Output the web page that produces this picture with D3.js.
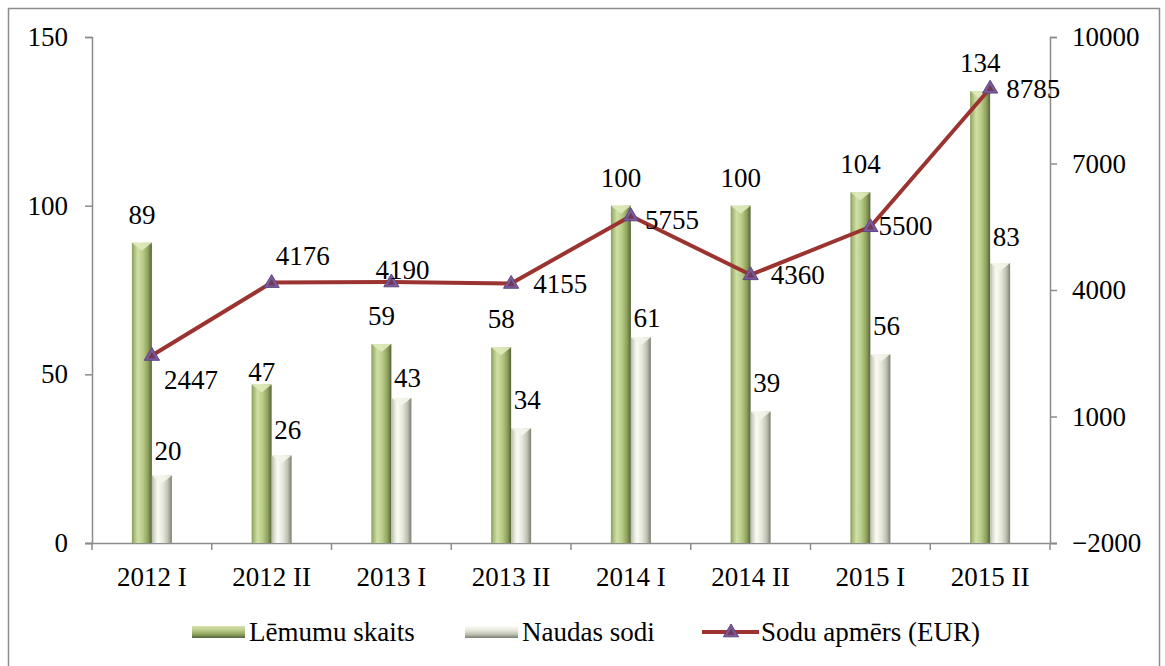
<!DOCTYPE html>
<html><head><meta charset="utf-8">
<script src="https://cdn.jsdelivr.net/npm/d3@7"></script>
<style>body{margin:0;background:#fff}text{font-family:"Liberation Serif","Times New Roman",serif;fill:#000}</style>
</head><body><svg id="c" width="1165" height="666"></svg>
<script>
const categories = ["2012 I","2012 II","2013 I","2013 II","2014 I","2014 II","2015 I","2015 II"];
const lemumi = [89,47,59,58,100,100,104,134];
const sodi = [20,26,43,34,61,39,56,83];
const apmers = [2447,4176,4190,4155,5755,4360,5500,8785];
const leftTicks = [0,50,100,150];
const rightTicks = [-2000,1000,4000,7000,10000];
const seriesNames = ["Lēmumu skaits","Naudas sodi","Sodu apmērs (EUR)"];

// label placement (layout only)
const greenLabelGap = [19,3,19,19,19,19,19,19];
const greyLabelGap = [16,16,11,19,10,19,19,17];
const lineLabelNudge = [[12,34],[4,-18],[-16,-3],[22,10],[14,13],[20,9],[8,8],[16,10]];

const FS = "27px";
const svg = d3.select("#c");
const L = 92, R = 1050, T = 37, B = 543;
const x = d3.scaleBand().domain(categories).range([L, R]);
const yL = d3.scaleLinear().domain([0,150]).range([B, T]);
const yR = d3.scaleLinear().domain([-2000,10000]).range([B, T]);
const bw = 20;

const defs = svg.append("defs");
function grad(id, stops, vertical){
  const g = defs.append("linearGradient").attr("id", id).attr("x1","0").attr("y1","0")
    .attr("x2", vertical ? "0" : "1").attr("y2", vertical ? "1" : "0");
  stops.forEach(s => g.append("stop").attr("offset", s[0]).attr("stop-color", s[1]));
}
grad("gGreen", [["0%","#8b9c5c"],["12%","#a9bc78"],["30%","#d0e0a6"],["55%","#b9cc88"],["80%","#8fa35e"],["100%","#56633a"]]);
grad("gGrey", [["0%","#b5b8a8"],["12%","#d8dacd"],["30%","#fbfcf4"],["55%","#e6e8dc"],["80%","#bfc2b2"],["100%","#7b7e70"]]);
grad("gGreenV", [["0%","#d6e4ae"],["35%","#b9cc88"],["70%","#8fa35e"],["100%","#56633a"]], true);
grad("gGreyV", [["0%","#fbfcf4"],["35%","#e6e8dc"],["70%","#bfc2b2"],["100%","#7b7e70"]], true);

svg.append("rect").attr("x",8.5).attr("y",8.5).attr("width",1151).attr("height",670)
  .attr("fill","none").attr("stroke","#8c8c8c").attr("stroke-width",1.5);

const axisColor = "#8c8c8c";
const gl = svg.append("g").attr("transform",`translate(${L},0)`)
  .call(d3.axisLeft(yL).tickValues(leftTicks).tickSize(7).tickPadding(17));
const gr = svg.append("g").attr("transform",`translate(${R},0)`)
  .call(d3.axisRight(yR).tickValues(rightTicks).tickFormat(d3.format("d")).tickSize(7).tickPadding(15));
const gx = svg.append("g").attr("transform",`translate(0,${B})`)
  .call(d3.axisBottom(x).tickSize(0).tickPadding(24));
[gl,gr,gx].forEach(g=>{
  g.attr("font-family",null);
  g.selectAll("path.domain").attr("stroke",axisColor).attr("stroke-width",1.5);
  g.selectAll("line").attr("stroke",axisColor).attr("stroke-width",1.5);
  g.selectAll("text").style("font-size",FS).attr("fill","#000");
});
gx.select("path.domain").attr("d",`M${L-7},0.5H${R+7}`);
const bounds = d3.range(categories.length+1).map(i => L + i*x.bandwidth());
svg.append("g").selectAll("line").data(bounds).join("line")
  .attr("x1",d=>d).attr("x2",d=>d).attr("y1",B).attr("y2",B+7)
  .attr("stroke",axisColor).attr("stroke-width",1.5);

function bar(g, xs, v, fill, light){
  const y0 = yL(v), h = B - y0;
  g.append("rect").attr("x",xs).attr("y",y0).attr("width",bw).attr("height",h).attr("fill",`url(#${fill})`);
  g.append("polygon").attr("points",`${xs},${y0} ${xs+bw},${y0} ${xs+bw/2},${y0+8}`).attr("fill",light).attr("opacity",0.9);
}
const bars = svg.append("g");
categories.forEach((c,i)=>{
  const cx = x(c) + x.bandwidth()/2;
  bar(bars, cx - bw, lemumi[i], "gGreen", "#dfeabc");
  bar(bars, cx, sodi[i], "gGrey", "#f4f5ea");
});

// line
const line = d3.line().x((d,i)=>x(categories[i])+x.bandwidth()/2).y(d=>yR(d));
svg.append("path").datum(apmers).attr("d",line).attr("fill","none").attr("stroke","#9b3330").attr("stroke-width",4).attr("stroke-linejoin","round");
function tri(g, cx, cy, s){
  g.append("path").attr("d",`M${cx},${cy-s} L${cx+s*0.95},${cy+s*0.6} L${cx-s*0.95},${cy+s*0.6} Z`)
    .attr("fill","#7a5c9c").attr("stroke","#5d4680").attr("stroke-width",1);
  g.append("path").attr("d",`M${cx},${cy-s*0.45} L${cx+s*0.45},${cy+s*0.35} L${cx-s*0.45},${cy+s*0.35} Z`)
    .attr("fill","#6e2a3a").attr("opacity",0.7);
}
const mk = svg.append("g");
apmers.forEach((v,i)=> tri(mk, x(categories[i])+x.bandwidth()/2, yR(v), 8));

const lbl = svg.append("g").style("font-size",FS);
categories.forEach((c,i)=>{
  const cx = x(c) + x.bandwidth()/2;
  lbl.append("text").attr("x",cx-bw/2).attr("y",yL(lemumi[i])-greenLabelGap[i]).attr("text-anchor","middle").text(lemumi[i]);
  lbl.append("text").attr("x",cx+bw/2+6).attr("y",yL(sodi[i])-greyLabelGap[i]).attr("text-anchor","middle").text(sodi[i]);
});
apmers.forEach((v,i)=>{
  const cx = x(categories[i])+x.bandwidth()/2, cy = yR(v);
  lbl.append("text").attr("x",cx+lineLabelNudge[i][0]).attr("y",cy+lineLabelNudge[i][1]).text(v);
});

// legend
const lg = svg.append("g").style("font-size",FS);
const ly = 632;
lg.append("rect").attr("x",192).attr("y",ly-6).attr("width",53).attr("height",12).attr("fill","url(#gGreenV)");
lg.append("text").attr("x",249).attr("y",ly+9).text(seriesNames[0]);
lg.append("rect").attr("x",465).attr("y",ly-6).attr("width",53).attr("height",12).attr("fill","url(#gGreyV)");
lg.append("text").attr("x",522).attr("y",ly+9).text(seriesNames[1]);
lg.append("line").attr("x1",702).attr("x2",759).attr("y1",ly).attr("y2",ly).attr("stroke","#9b3330").attr("stroke-width",4);
tri(lg, 731, ly, 8);
lg.append("text").attr("x",761).attr("y",ly+9).text(seriesNames[2]);
</script></body></html>
